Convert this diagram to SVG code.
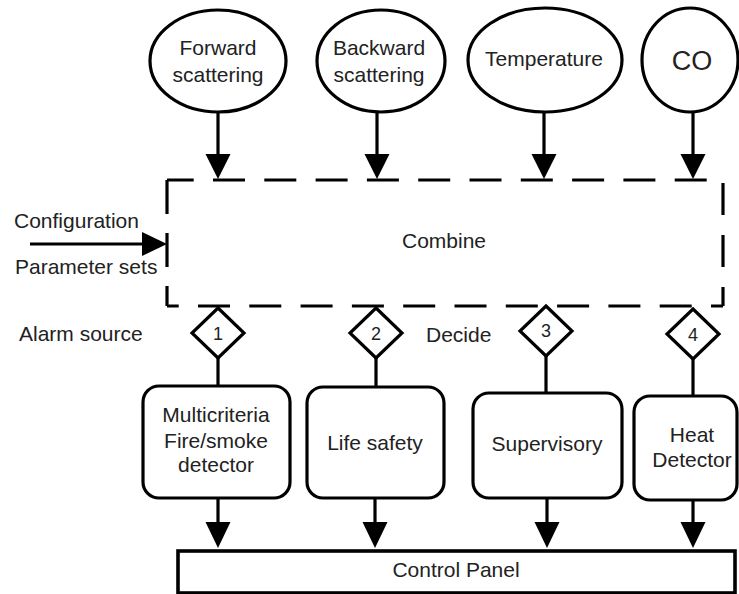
<svg xmlns="http://www.w3.org/2000/svg" width="739" height="594" viewBox="0 0 739 594">
<defs>
<style>
.s{fill:#fff;stroke:#000;stroke-width:3.2}
.ln{fill:none;stroke:#000;stroke-width:3.2}
.ah{fill:#000;stroke:none}
.d{fill:none;stroke:#000;stroke-width:3.2}
text{font-family:"Liberation Sans",Arial,sans-serif;font-size:21px;fill:#222}
.c{text-anchor:middle}
.n{font-size:18px}
</style>
</defs>
<rect width="739" height="594" fill="#fff"/>
<g id="forward">
<ellipse class="s" cx="218" cy="61" rx="68" ry="51"/>
<text class="c" x="218" y="55">Forward</text>
<text class="c" x="218" y="82">scattering</text>
</g>
<g id="backward">
<ellipse class="s" cx="381" cy="61" rx="64" ry="51"/>
<text class="c" x="379" y="55">Backward</text>
<text class="c" x="379" y="82">scattering</text>
</g>
<g id="temperature">
<ellipse class="s" cx="545" cy="60" rx="77" ry="52"/>
<text class="c" x="544" y="66">Temperature</text>
</g>
<g id="co">
<ellipse class="s" cx="690" cy="60" rx="48" ry="52"/>
<text class="c" x="692" y="70" style="font-size:27px">CO</text>
</g>
<g id="combine">
<line class="d" x1="167" y1="180" x2="723" y2="180" stroke-dasharray="32 19.3" stroke-dashoffset="5.3"/>
<line class="d" x1="167" y1="180" x2="167" y2="306" stroke-dasharray="34 19"/>
<line class="d" x1="723" y1="183" x2="723" y2="306" stroke-dasharray="32 20"/>
<line class="d" x1="167" y1="306" x2="723" y2="306" stroke-dasharray="32 19.3" stroke-dashoffset="20.3"/>
<text class="c" x="444" y="248">Combine</text>
</g>
<g id="labels">
<text x="14" y="228">Configuration</text>
<text x="15" y="274">Parameter sets</text>
<text x="19" y="341">Alarm source</text>
<text x="426" y="342">Decide</text>
</g>
<g id="d1">
<polygon class="s" points="218,308 244,333 218,358 192,333"/>
<text class="c n" x="218" y="340">1</text>
</g>
<g id="d2">
<polygon class="s" points="376,308 402,333 376,358 350,333"/>
<text class="c n" x="376" y="340">2</text>
</g>
<g id="d3">
<polygon class="s" points="546,306 572,331 546,356 520,331"/>
<text class="c n" x="546" y="337">3</text>
</g>
<g id="d4">
<polygon class="s" points="693,309 719,334 693,359 667,334"/>
<text class="c n" x="693" y="341">4</text>
</g>
<g id="multicriteria">
<rect class="s" x="143" y="386" width="147" height="112" rx="16"/>
<text class="c" x="216" y="422">Multicriteria</text>
<text class="c" x="216" y="448">Fire/smoke</text>
<text class="c" x="216" y="472">detector</text>
</g>
<g id="lifesafety">
<rect class="s" x="307" y="387" width="137" height="111" rx="16"/>
<text class="c" x="375" y="450">Life safety</text>
</g>
<g id="supervisory">
<rect class="s" x="473" y="393" width="149" height="105" rx="16"/>
<text class="c" x="547" y="451">Supervisory</text>
</g>
<g id="heat">
<rect class="s" x="634" y="396" width="103" height="104" rx="16"/>
<text class="c" x="692" y="442">Heat</text>
<text class="c" x="692" y="467">Detector</text>
</g>
<g id="controlpanel">
<rect class="s" x="178" y="551" width="557" height="42" style="stroke-width:3.6"/>
<text class="c" x="456" y="577">Control Panel</text>
</g>
<g id="connectors">
<line class="ln" x1="218" y1="112" x2="218" y2="156"/>
<polygon class="ah" points="205.5,154 230.5,154 218,179"/>
<line class="ln" x1="377" y1="112" x2="377" y2="156"/>
<polygon class="ah" points="364.5,154 389.5,154 377,179"/>
<line class="ln" x1="544" y1="112" x2="544" y2="156"/>
<polygon class="ah" points="531.5,154 556.5,154 544,179"/>
<line class="ln" x1="693" y1="112" x2="693" y2="156"/>
<polygon class="ah" points="680.5,154 705.5,154 693,179"/>
<line class="ln" x1="30" y1="244" x2="144" y2="244"/>
<polygon class="ah" points="142,232 142,256 167,244"/>
<line class="ln" x1="218" y1="358" x2="218" y2="386"/>
<line class="ln" x1="376" y1="358" x2="376" y2="387"/>
<line class="ln" x1="546" y1="356" x2="546" y2="393"/>
<line class="ln" x1="693" y1="359" x2="693" y2="396"/>
<line class="ln" x1="218" y1="498" x2="218" y2="524"/>
<polygon class="ah" points="205.5,522 230.5,522 218,548"/>
<line class="ln" x1="375" y1="498" x2="375" y2="524"/>
<polygon class="ah" points="362.5,522 387.5,522 375,548"/>
<line class="ln" x1="547" y1="498" x2="547" y2="524"/>
<polygon class="ah" points="534.5,522 559.5,522 547,548"/>
<line class="ln" x1="693" y1="500" x2="693" y2="524"/>
<polygon class="ah" points="680.5,522 705.5,522 693,548"/>
</g>
</svg>
